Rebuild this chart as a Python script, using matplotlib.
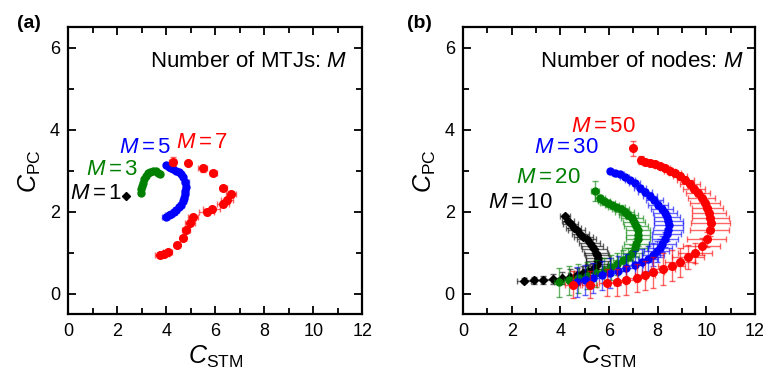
import matplotlib
matplotlib.use("Agg")
import matplotlib.pyplot as plt
from matplotlib.ticker import MultipleLocator

plt.rcParams['font.family'] = ['Liberation Sans', 'DejaVu Sans']
plt.rcParams['mathtext.fontset'] = 'custom'
plt.rcParams['mathtext.rm'] = 'Liberation Sans'
plt.rcParams['mathtext.it'] = 'Liberation Sans:italic'

# ---- panel (a): number of MTJs ----
a1_x = [2.36]
a1_y = [2.40]

a3_x = [2.97, 2.98, 3.00, 3.04, 3.10, 3.17, 3.25, 3.35, 3.47, 3.58, 3.68, 3.74]
a3_y = [2.45, 2.55, 2.63, 2.71, 2.80, 2.88, 2.94, 2.98, 3.00, 2.99, 2.96, 2.93]

a5_x = [3.99, 4.10, 4.20, 4.29, 4.40, 4.50, 4.60, 4.70, 4.78, 4.80, 4.78, 4.76,
        4.72, 4.68, 4.60, 4.50, 4.40, 4.30, 4.20, 4.10, 3.98]
a5_y = [3.14, 3.10, 3.07, 3.04, 3.00, 2.97, 2.92, 2.85, 2.73, 2.62, 2.52, 2.44,
        2.35, 2.26, 2.18, 2.11, 2.05, 2.00, 1.96, 1.93, 1.88]
a5_xe = [0.05, 0.05, 0.05, 0.05, 0.05, 0.06, 0.06, 0.08, 0.14, 0.10, 0.10, 0.10,
         0.12, 0.12, 0.12, 0.12, 0.12, 0.12, 0.13, 0.14, 0.15]

a7_x = [4.26, 4.87, 5.49, 5.92, 6.33, 6.63, 6.47, 6.30, 5.85, 5.65, 5.10, 4.97,
        4.80, 4.67, 4.42, 4.05, 3.90, 3.74]
a7_y = [3.23, 3.20, 3.06, 2.94, 2.59, 2.43, 2.28, 2.20, 2.06, 2.00, 1.88, 1.72,
        1.57, 1.37, 1.20, 1.02, 0.98, 0.94]
a7_xe = [0.15, 0.0, 0.18, 0.15, 0.15, 0.20, 0.25, 0.25, 0.35, 0.30, 0.20, 0.20,
         0.15, 0.12, 0.12, 0.20, 0.20, 0.20]
a7_ye = [0.10, 0.0, 0.08, 0.05, 0.05, 0.05, 0.05, 0.05, 0.05, 0.05, 0.05, 0.05,
         0.05, 0.05, 0.05, 0.05, 0.05, 0.05]

# ---- panel (b): number of nodes ----
b10_x = [4.19, 4.30, 4.42, 4.55, 4.68, 4.82, 4.95, 5.08, 5.20, 5.31, 5.40, 5.47,
         5.52, 5.55, 5.55, 5.52, 5.45, 5.33, 5.15, 4.95, 4.70, 4.40, 4.05, 3.70,
         3.30, 2.90, 2.50]
b10_y = [1.90, 1.78, 1.70, 1.62, 1.55, 1.47, 1.40, 1.33, 1.25, 1.17, 1.09, 1.01,
         0.94, 0.87, 0.80, 0.74, 0.67, 0.61, 0.55, 0.50, 0.46, 0.42, 0.39, 0.36,
         0.34, 0.33, 0.32]
b10_xe = [0.20, 0.25, 0.30, 0.30, 0.35, 0.35, 0.40, 0.40, 0.45, 0.45, 0.50, 0.50,
          0.50, 0.50, 0.50, 0.45, 0.45, 0.45, 0.40, 0.40, 0.40, 0.35, 0.35, 0.35,
          0.30, 0.30, 0.30]
b10_ye = [0.05, 0.05, 0.05, 0.05, 0.05, 0.05, 0.06, 0.06, 0.07, 0.07, 0.08, 0.08,
          0.09, 0.10, 0.11, 0.12, 0.13, 0.15, 0.16, 0.18, 0.18, 0.18, 0.15, 0.12,
          0.10, 0.08, 0.06]

b20_x = [5.42, 5.62, 5.78, 5.95, 6.12, 6.30, 6.48, 6.64, 6.80, 6.93, 7.04, 7.12,
         7.18, 7.20, 7.18, 7.13, 7.05, 6.93, 6.78, 6.58, 6.35, 6.08, 5.78, 5.45,
         5.08, 4.72, 4.35, 3.95]
b20_y = [2.51, 2.33, 2.26, 2.21, 2.16, 2.11, 2.06, 2.00, 1.93, 1.85, 1.76, 1.66,
         1.55, 1.44, 1.33, 1.22, 1.11, 1.00, 0.91, 0.82, 0.73, 0.65, 0.57, 0.50,
         0.44, 0.38, 0.33, 0.28]
b20_xe = [0.15, 0.20, 0.25, 0.30, 0.30, 0.35, 0.35, 0.40, 0.40, 0.45, 0.45, 0.50,
          0.50, 0.50, 0.50, 0.50, 0.50, 0.45, 0.45, 0.40, 0.40, 0.35, 0.30, 0.30,
          0.25, 0.25, 0.20, 0.20]
b20_ye = [0.25, 0.08, 0.08, 0.08, 0.08, 0.08, 0.10, 0.10, 0.10, 0.10, 0.10, 0.10,
          0.12, 0.12, 0.15, 0.15, 0.18, 0.20, 0.22, 0.25, 0.28, 0.30, 0.30, 0.32,
          0.33, 0.35, 0.35, 0.35]

b30_x = [6.04, 6.25, 6.45, 6.65, 6.86, 7.06, 7.27, 7.47, 7.68, 7.86, 8.02, 8.17,
         8.30, 8.39, 8.44, 8.45, 8.43, 8.37, 8.30, 8.20, 8.09, 7.96, 7.82, 7.60,
         7.35, 7.05, 6.72, 6.38, 6.04, 5.70, 5.35, 5.00, 4.67]
b30_y = [3.00, 2.96, 2.92, 2.86, 2.79, 2.70, 2.59, 2.49, 2.39, 2.28, 2.18, 2.08,
         1.98, 1.88, 1.78, 1.67, 1.57, 1.45, 1.33, 1.22, 1.12, 1.04, 0.96, 0.86,
         0.77, 0.70, 0.63, 0.57, 0.51, 0.45, 0.39, 0.34, 0.29]
b30_xe = [0.10, 0.12, 0.15, 0.18, 0.20, 0.22, 0.25, 0.28, 0.30, 0.35, 0.40, 0.45,
          0.50, 0.55, 0.60, 0.60, 0.60, 0.60, 0.55, 0.55, 0.50, 0.50, 0.45, 0.40,
          0.40, 0.35, 0.35, 0.30, 0.30, 0.25, 0.25, 0.20, 0.20]
b30_ye = [0.05, 0.05, 0.05, 0.05, 0.05, 0.06, 0.06, 0.06, 0.07, 0.07, 0.08, 0.08,
          0.08, 0.10, 0.10, 0.12, 0.14, 0.16, 0.18, 0.20, 0.22, 0.25, 0.28, 0.30,
          0.32, 0.34, 0.35, 0.35, 0.36, 0.36, 0.36, 0.36, 0.36]

b50_x = [7.00, 7.31, 7.50, 7.68, 7.88, 8.09, 8.30, 8.50, 8.71, 8.92, 9.13, 9.33,
         9.50, 9.67, 9.82, 9.95, 10.05, 10.12, 10.17, 10.19, 10.15, 10.02, 9.81,
         9.53, 9.26, 8.92, 8.58, 8.23, 7.82, 7.48, 7.14, 6.72, 6.31, 5.90, 5.21,
         4.51]
b50_y = [3.55, 3.26, 3.23, 3.20, 3.16, 3.12, 3.06, 3.00, 2.94, 2.88, 2.78, 2.67,
         2.57, 2.47, 2.35, 2.22, 2.10, 1.98, 1.86, 1.74, 1.57, 1.33, 1.16, 1.00,
         0.90, 0.77, 0.69, 0.61, 0.53, 0.45, 0.39, 0.33, 0.28, 0.27, 0.23, 0.22]
b50_xe = [0.05, 0.10, 0.12, 0.15, 0.15, 0.18, 0.20, 0.22, 0.25, 0.30, 0.35, 0.40,
          0.45, 0.50, 0.55, 0.60, 0.65, 0.70, 0.75, 0.80, 0.80, 0.80, 0.75, 0.70,
          0.65, 0.60, 0.55, 0.50, 0.45, 0.40, 0.40, 0.35, 0.35, 0.30, 0.30, 0.30]
b50_ye = [0.18, 0.10, 0.06, 0.06, 0.06, 0.06, 0.06, 0.07, 0.07, 0.08, 0.08, 0.08,
          0.08, 0.08, 0.10, 0.10, 0.10, 0.12, 0.12, 0.12, 0.15, 0.18, 0.20, 0.25,
          0.30, 0.35, 0.38, 0.38, 0.38, 0.36, 0.35, 0.35, 0.33, 0.33, 0.33, 0.33]

RED, BLUE, GREEN = '#ff0000', '#0000ff', '#008000'


def curve(ax, x, y, xe, ye, c, ms=5, mk='o'):
    ax.errorbar(x, y, xerr=xe, yerr=ye, fmt='none', ecolor=c, alpha=0.6,
                elinewidth=1.0, capsize=2, capthick=1.0)
    ax.plot(x, y, mk, color=c, ms=ms, mec=c)


def style(ax, lab, xr):
    ax.set_xlim(0, 12)
    ax.set_ylim(-0.5, 6.5)
    ax.xaxis.set_major_locator(MultipleLocator(2))
    ax.xaxis.set_minor_locator(MultipleLocator(1))
    ax.yaxis.set_major_locator(MultipleLocator(2))
    ax.yaxis.set_minor_locator(MultipleLocator(1))
    ax.tick_params(which='both', direction='in', top=True, right=True,
                   width=1.3, labelsize=13, pad=6)
    ax.tick_params(which='major', length=6)
    ax.tick_params(which='minor', length=4)
    for s in ax.spines.values():
        s.set_linewidth(1.6)
    ax.set_xlabel(r'$C_{\mathrm{STM}}$', fontsize=18, labelpad=3)
    ax.set_ylabel(r'$C_{\mathrm{PC}}$', fontsize=18, labelpad=5)
    ax.text(xr, 5.68, lab, ha='right', va='center', fontsize=16)


fig = plt.figure(figsize=(7.63, 3.73), dpi=100)
ax1 = fig.add_axes([0.0895, 0.157, 0.3853, 0.7694])
ax2 = fig.add_axes([0.607, 0.157, 0.3823, 0.7694])

# panel (a)
ax1.plot(a1_x, a1_y, 'D', color='k', ms=4)
curve(ax1, a3_x, a3_y, 0.04, 0.03, GREEN)
curve(ax1, a5_x, a5_y, a5_xe, 0.04, BLUE)
curve(ax1, a7_x, a7_y, a7_xe, a7_ye, RED, ms=5.5)
style(ax1, r'Number of MTJs: $M$', 11.4)
ax1.text(1.15, 2.45, r'$M=1$', color='k', fontsize=16, ha='center', va='center')
ax1.text(1.78, 3.04, r'$M=3$', color=GREEN, fontsize=16, ha='center', va='center')
ax1.text(3.13, 3.58, r'$M=5$', color=BLUE, fontsize=16, ha='center', va='center')
ax1.text(5.45, 3.70, r'$M=7$', color=RED, fontsize=16, ha='center', va='center')

# panel (b)
curve(ax2, b10_x, b10_y, b10_xe, b10_ye, 'k', mk='D', ms=4.5)
curve(ax2, b20_x, b20_y, b20_xe, b20_ye, GREEN)
curve(ax2, b30_x, b30_y, b30_xe, b30_ye, BLUE)
curve(ax2, b50_x, b50_y, b50_xe, b50_ye, RED, ms=5.5)
style(ax2, r'Number of nodes: $M$', 11.55)
ax2.text(2.37, 2.23, r'$M=10$', color='k', fontsize=16, ha='center', va='center')
ax2.text(3.49, 2.84, r'$M=20$', color=GREEN, fontsize=16, ha='center', va='center')
ax2.text(4.23, 3.57, r'$M=30$', color=BLUE, fontsize=16, ha='center', va='center')
ax2.text(5.79, 4.09, r'$M=50$', color=RED, fontsize=16, ha='center', va='center')

fig.text(0.022, 0.936, '(a)', fontsize=14, fontweight='bold', va='center')
fig.text(0.533, 0.936, '(b)', fontsize=14, fontweight='bold', va='center')

fig.savefig('out.png', dpi=100)
